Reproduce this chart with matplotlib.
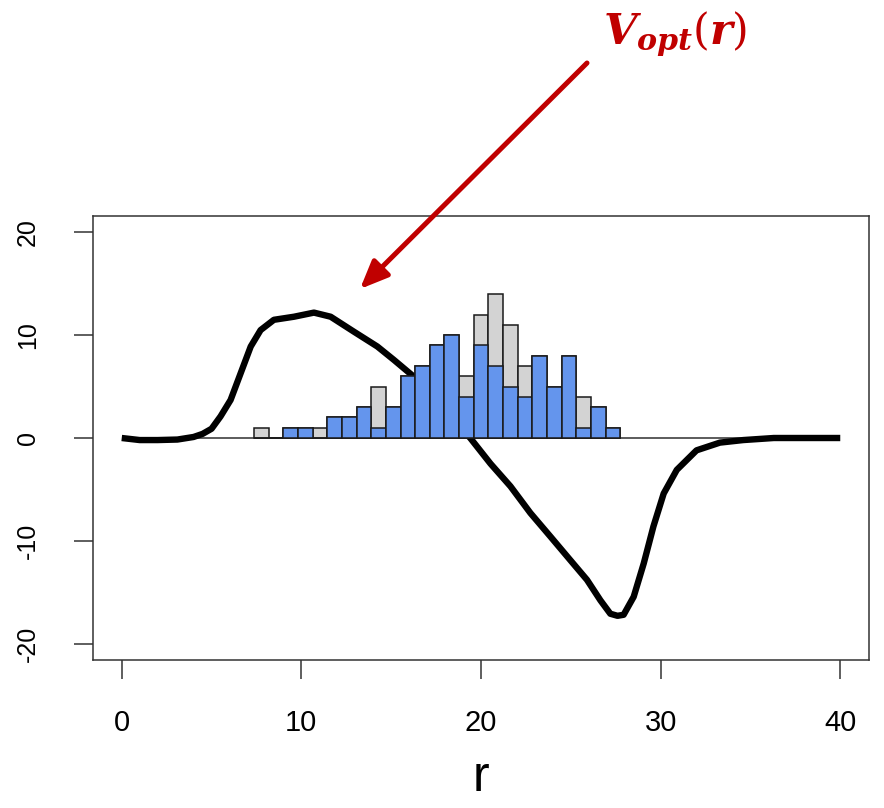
import numpy as np
import matplotlib
matplotlib.use('Agg')
import matplotlib.pyplot as plt

# histogram of r (all cases in grey, selected subset in blue)
r_min = 7.36
r_max = 27.76
n_bins = 25
all_counts = [1, 0, 1, 1, 1, 2, 2, 3, 5, 3, 6, 7, 9, 10, 6, 12, 14, 11, 7, 8, 5, 8, 4, 3, 1]
sub_counts = [0, 0, 1, 1, 0, 2, 2, 3, 1, 3, 6, 7, 9, 10, 4, 9, 7, 5, 4, 8, 5, 8, 1, 3, 1]

# optimal V(r) curve
r_curve = [0, 1.0, 2.0, 3.1, 4.0, 4.5, 5.0, 5.5, 6.06, 6.62, 7.18, 7.73, 8.47, 9.59,
           10.7, 11.63, 12.92, 14.23, 15.15, 16.17, 17.8, 19.4, 20.53, 21.64, 22.75,
           23.87, 24.98, 25.9, 26.65, 27.2, 27.6, 27.94, 28.5, 29.06, 29.6, 30.17,
           30.9, 32.0, 33.3, 34.6, 36.3, 40.0]
v_curve = [0.0, -0.2, -0.2, -0.15, 0.1, 0.4, 0.9, 2.1, 3.7, 6.3, 8.9, 10.5, 11.5, 11.8,
           12.2, 11.8, 10.35, 8.9, 7.6, 6.1, 3.0, 0.0, -2.5, -4.7, -7.3,
           -9.6, -11.9, -13.8, -15.8, -17.1, -17.3, -17.2, -15.45, -12.2, -8.6, -5.4,
           -3.1, -1.2, -0.45, -0.2, 0.0, 0.0]

x_ticks = [0, 10, 20, 30, 40]
y_ticks = [-20, -10, 0, 10, 20]

plt.rcParams['font.family'] = ['Liberation Sans', 'DejaVu Sans']
plt.rcParams['axes.unicode_minus'] = False
plt.rcParams['mathtext.fontset'] = 'custom'
plt.rcParams['mathtext.it'] = 'DejaVu Serif:italic:bold'
plt.rcParams['mathtext.rm'] = 'DejaVu Serif'
plt.rcParams['mathtext.bf'] = 'DejaVu Serif:bold'

W, H = 884, 808
fig = plt.figure(figsize=(W / 100, H / 100), dpi=100)
ax = fig.add_axes([93 / W, 1 - 660 / H, (869 - 93) / W, (660 - 216) / H])

edges = np.linspace(r_min, r_max, n_bins + 1)
widths = np.diff(edges)

ax.hlines(0, 0, 40, color='#404040', lw=1.2, zorder=1)
ax.plot(r_curve, v_curve, color='black', lw=4.6, solid_capstyle='butt',
        solid_joinstyle='round', zorder=2)
ax.bar(edges[:-1], all_counts, width=widths, align='edge', color='#D3D3D3',
       edgecolor='#1a1a1a', lw=1.1, zorder=3)
ax.bar(edges[:-1], sub_counts, width=widths, align='edge', color='#6495ED',
       edgecolor='#1a1a1a', lw=1.1, zorder=4)

ax.set_xlim(-1.6, 41.6)
ax.set_ylim(-21.6, 21.6)
ax.set_xticks(x_ticks)
ax.set_yticks(y_ticks)
ax.tick_params(axis='both', length=14, width=1.1, color='#333333')
ax.tick_params(axis='x', labelsize=21, pad=21)
ax.tick_params(axis='y', labelsize=18, pad=24, labelrotation=90)
for lab in ax.get_yticklabels():
    lab.set_va('center')
for s in ax.spines.values():
    s.set_color('#333333')
    s.set_linewidth(1.1)

ax.set_xlabel('r', fontsize=36, labelpad=13)

ax.annotate('', xy=(360, H - 289), xycoords='figure pixels',
            xytext=(587, H - 63), textcoords='figure pixels',
            arrowprops=dict(arrowstyle='-|>,head_length=0.85,head_width=0.36',
                            mutation_scale=20, lw=3.6, color='#C00000',
                            shrinkA=0, shrinkB=0),
            annotation_clip=False)
fig.text(603 / W, 1 - 44 / H, r'$V_{opt}(r)$', color='#C00000', fontsize=31,
         ha='left', va='baseline')

fig.savefig('out.png', dpi=100)
